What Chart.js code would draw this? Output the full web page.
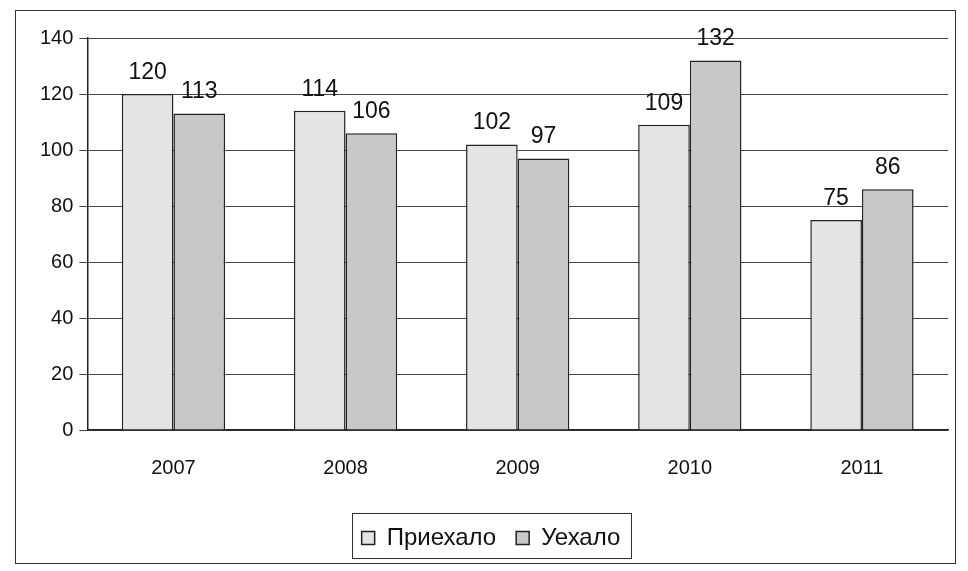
<!DOCTYPE html>
<html>
<head>
<meta charset="utf-8">
<script src="https://cdn.jsdelivr.net/npm/chart.js@4.4.1/dist/chart.umd.min.js"></script>
<style>
    html, body { margin: 0; padding: 0; background: #fff; }
    #wrap { width: 968px; height: 571px; position: relative; }
</style>
</head>
<body>
<div id="wrap"><canvas id="chart" width="968" height="571"></canvas></div>
<script>
// Chart data
const years = ['2007', '2008', '2009', '2010', '2011'];
const arrived = [120, 114, 102, 109, 75];
const departed = [113, 106, 97, 132, 86];
const yTicks = [0, 20, 40, 60, 80, 100, 120, 140];

const FONT = '"Liberation Sans", Arial, sans-serif';

// Outer frame and legend border
const framePlugin = {
    id: 'frame',
    afterDraw: (chart) => {
        const ctx = chart.ctx;
        ctx.save();
        ctx.strokeStyle = '#333';
        ctx.lineWidth = 1;
        ctx.strokeRect(15.5, 10.5, 940, 553);
        // border only around legend items
        const boxes = chart.legend.legendHitBoxes;
        if (boxes && boxes.length) {
            const left = Math.min(...boxes.map(b => b.left)) - 10;
            const right = Math.max(...boxes.map(b => b.left + b.width)) + 10;
            const top = Math.min(...boxes.map(b => b.top)) - 13;
            ctx.strokeRect(Math.round(left) + 0.5, Math.round(top) + 0.5, Math.round(right - left), 45);
        }
        ctx.restore();
    }
};

// Value labels above bars
const valueLabels = {
    id: 'valueLabels',
    afterDatasetsDraw: (chart) => {
        const ctx = chart.ctx;
        ctx.save();
        ctx.font = '23px ' + FONT;
        ctx.fillStyle = '#111';
        ctx.textAlign = 'center';
        ctx.textBaseline = 'bottom';
        chart.data.datasets.forEach((ds, i) => {
            chart.getDatasetMeta(i).data.forEach((bar, j) => {
                ctx.fillText(ds.data[j], bar.x, bar.y - 10);
            });
        });
        ctx.restore();
    }
};

new Chart(document.getElementById('chart'), {
    type: 'bar',
    data: {
        labels: years,
        datasets: [{
            label: 'Приехало',
            data: arrived,
            backgroundColor: '#e4e4e4',
            borderColor: '#222',
            borderWidth: 1.5,
            barPercentage: 1,
            categoryPercentage: 0.6
        }, {
            label: 'Уехало',
            data: departed,
            backgroundColor: '#c8c8c8',
            borderColor: '#222',
            borderWidth: 1.5,
            barPercentage: 1,
            categoryPercentage: 0.6
        }]
    },
    options: {
        responsive: false,
        animation: false,
        layout: { padding: { left: 34, right: 20, top: 38, bottom: 11 } },
        plugins: {
            legend: {
                position: 'bottom',
                labels: {
                    font: { size: 24, family: FONT },
                    color: '#111',
                    boxWidth: 13,
                    boxHeight: 13,
                    padding: 20
                }
            },
            tooltip: { enabled: false }
        },
        scales: {
            x: {
                grid: { display: false, drawTicks: false },
                border: { color: '#222', width: 1.5 },
                ticks: {
                    padding: 26,
                    color: '#111',
                    font: { size: 20, family: FONT }
                }
            },
            y: {
                min: 0,
                max: 140,
                afterBuildTicks: (axis) => {
                    axis.ticks = yTicks.map(v => ({ value: v }));
                },
                grid: { color: '#444', lineWidth: 1, tickLength: 8 },
                border: { color: '#222', width: 1.5 },
                ticks: {
                    padding: 6,
                    color: '#111',
                    font: { size: 20, family: FONT }
                }
            }
        }
    },
    plugins: [framePlugin, valueLabels]
});
</script>
</body>
</html>
